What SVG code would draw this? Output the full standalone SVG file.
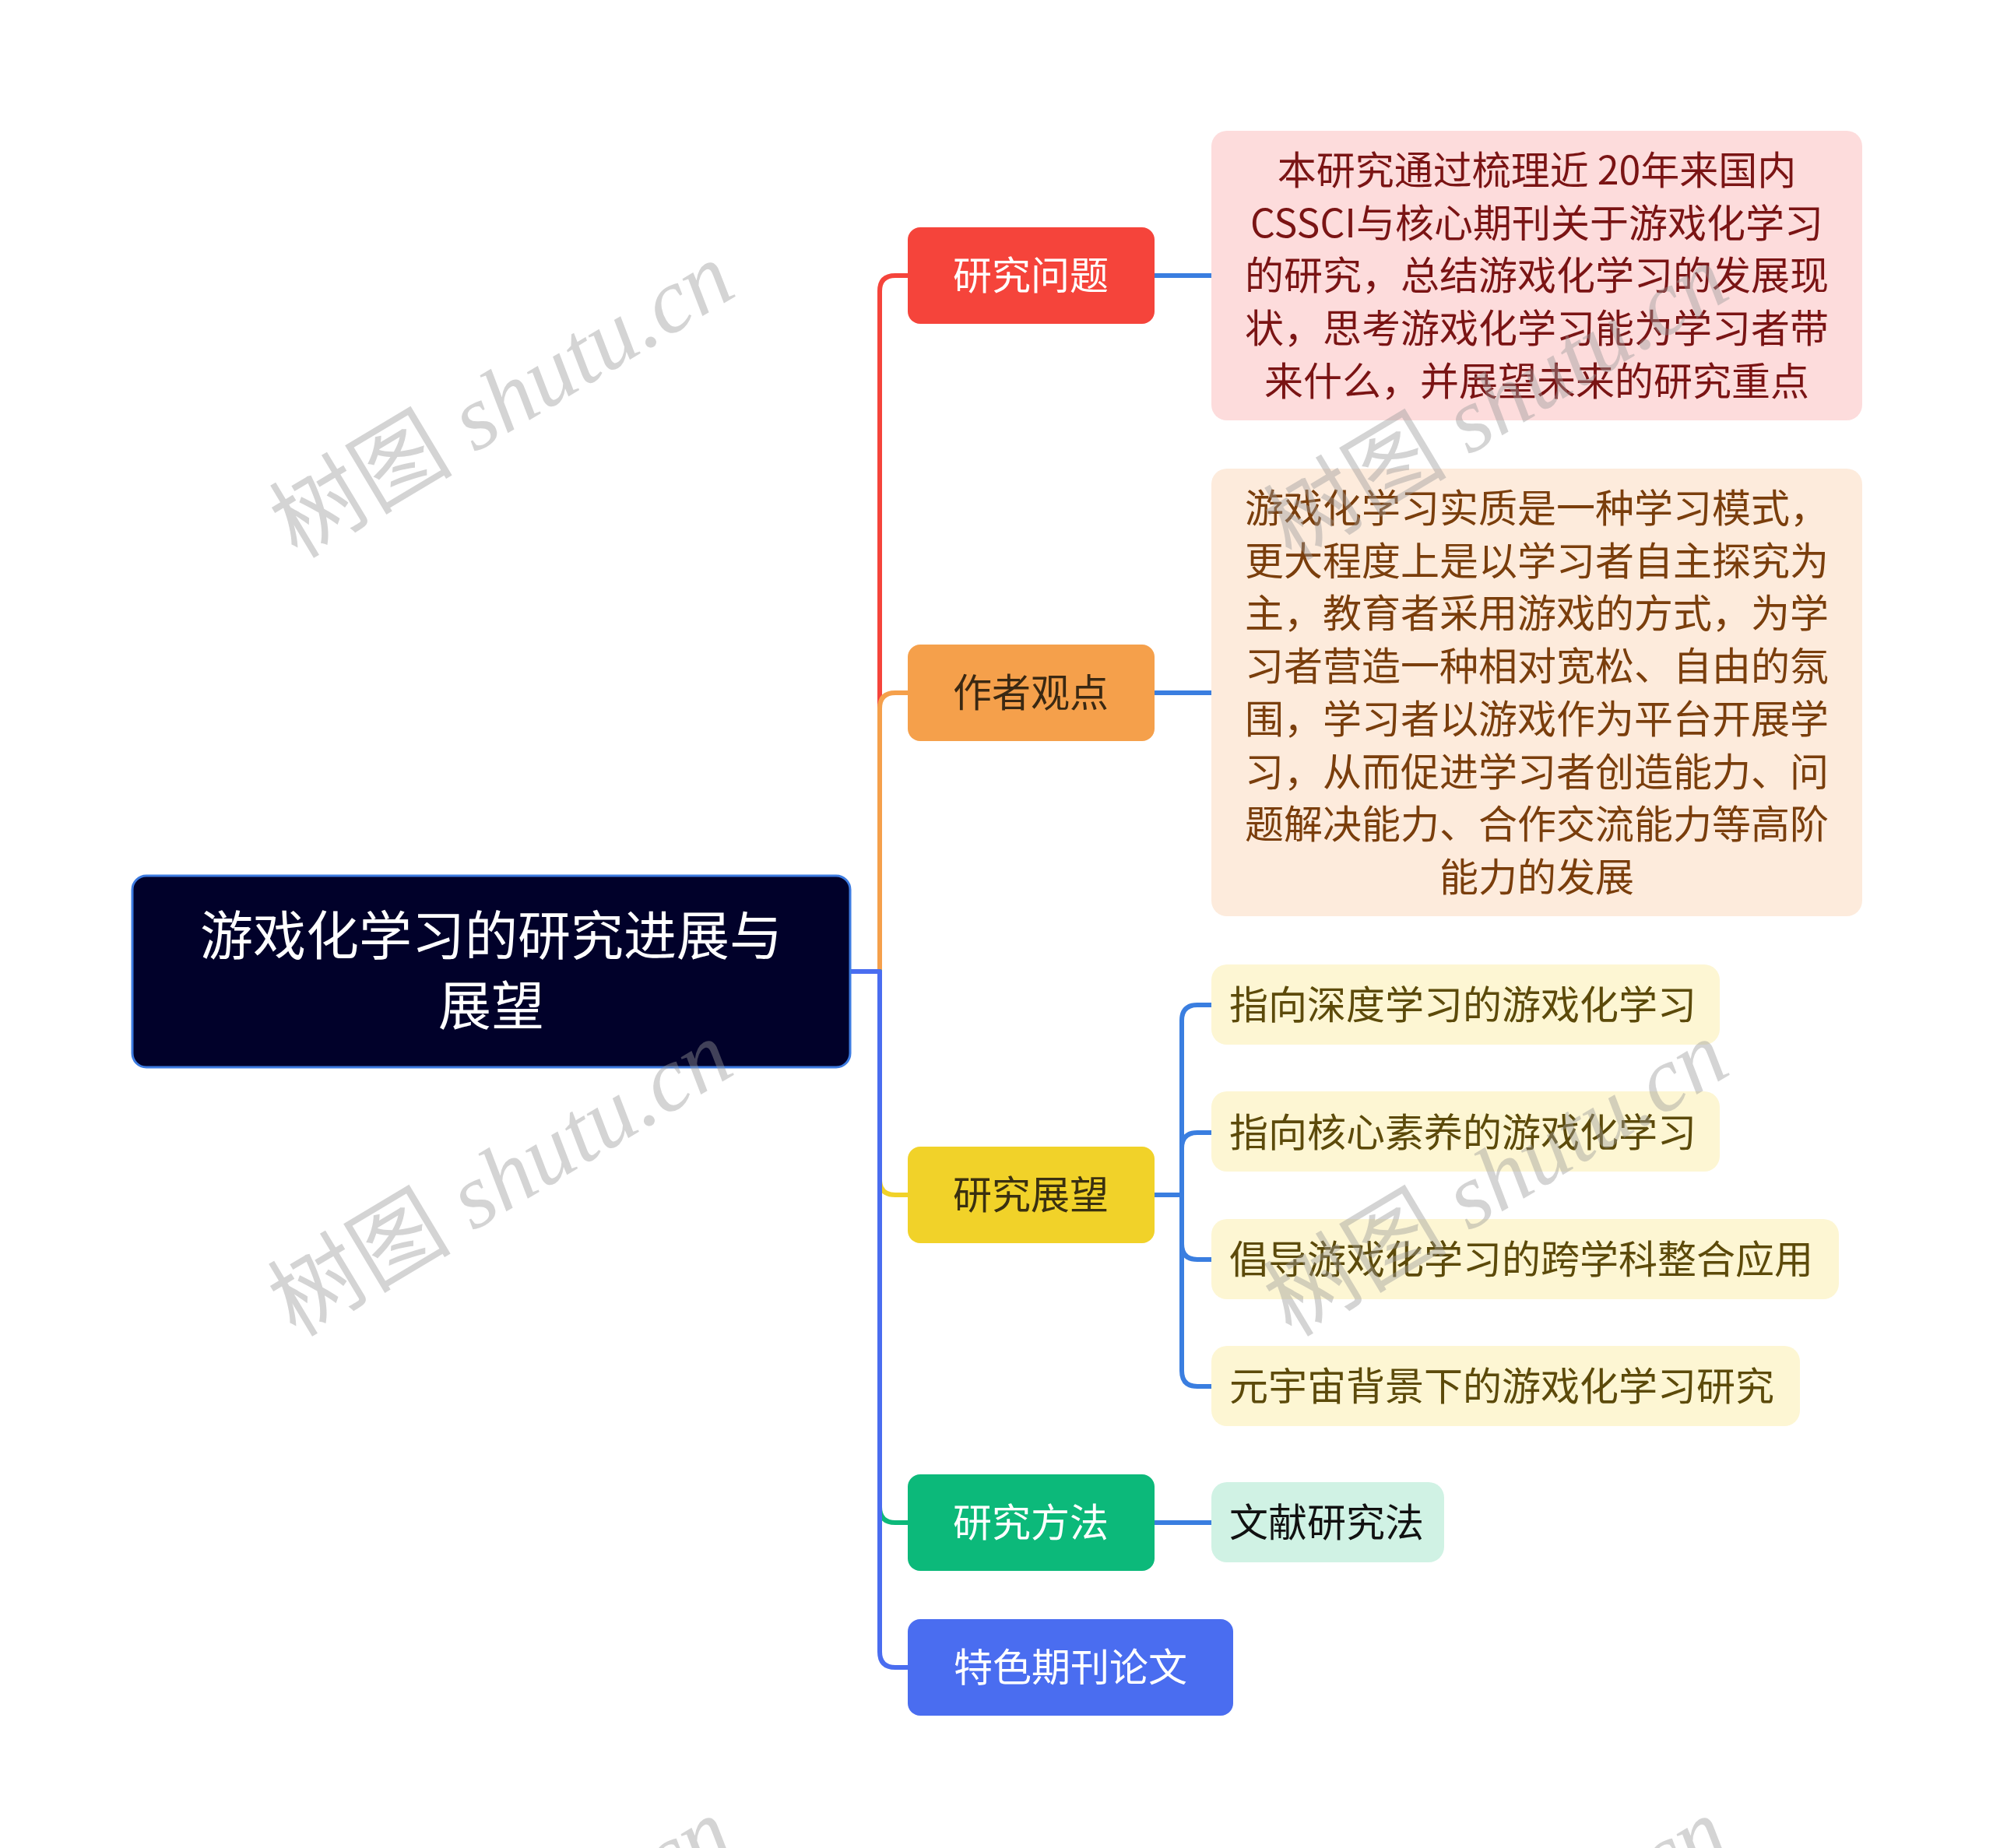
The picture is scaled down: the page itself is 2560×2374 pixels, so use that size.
<svg xmlns="http://www.w3.org/2000/svg" width="2560" height="2374" viewBox="0 0 2560 2374">
<style>
.t{font-family:"Noto Sans CJK SC","Noto Sans",sans-serif;}
.root{font-size:68px;fill:#ffffff;text-anchor:middle;}
.br{font-size:50px;text-anchor:middle;}
.lf{font-size:50px;}
.lc{text-anchor:middle;}
.ln{fill:none;stroke-width:6;stroke-linecap:round;stroke-linejoin:round;}
.wm{font-family:"Liberation Serif","Noto Sans CJK SC",serif;font-size:118px;fill:#9a9a9a;opacity:0.42;text-anchor:middle;}
</style>
<rect width="2560" height="2374" fill="#ffffff"/>
<g id="connectors">
<path class="ln" stroke="#F5443B" d="M1092,1248 H1130 V374 Q1130,354 1150,354 H1166"/>
<path class="ln" stroke="#F5A04B" d="M1092,1248 H1130 V910 Q1130,890 1150,890 H1166"/>
<path class="ln" stroke="#F1D229" d="M1092,1248 H1130 V1515 Q1130,1535 1150,1535 H1166"/>
<path class="ln" stroke="#0CB97A" d="M1092,1248 H1130 V1936 Q1130,1956 1150,1956 H1166"/>
<path class="ln" stroke="#4A6DF0" d="M1092,1248 H1130 V2122 Q1130,2142 1150,2142 H1166"/>
<path class="ln" stroke="#3A7EE0" d="M1483,354 H1556"/>
<path class="ln" stroke="#3A7EE0" d="M1483,890 H1556"/>
<path class="ln" stroke="#3A7EE0" d="M1483,1956 H1556"/>
<path class="ln" stroke="#3A7EE0" d="M1483,1535 H1518 V1311 Q1518,1291 1538,1291 H1556"/>
<path class="ln" stroke="#3A7EE0" d="M1518,1535 V1475 Q1518,1455 1538,1455 H1556"/>
<path class="ln" stroke="#3A7EE0" d="M1518,1535 V1598 Q1518,1618 1538,1618 H1556"/>
<path class="ln" stroke="#3A7EE0" d="M1518,1535 V1761 Q1518,1781 1538,1781 H1556"/>
</g>
<g id="root">
<rect x="170" y="1125" width="922" height="246" rx="18" fill="#01012A" stroke="#3D7BE0" stroke-width="3"/>
<text class="t root" x="631" y="1227">游戏化学习的研究进展与</text>
<text class="t root" x="631" y="1317">展望</text>
</g>
<g id="n1">
<rect x="1166" y="292" width="317" height="124" rx="16" fill="#F5443B"/>
<text class="t br" x="1324" y="372" fill="#ffffff">研究问题</text>
</g>
<g id="n2">
<rect x="1166" y="828" width="317" height="124" rx="16" fill="#F5A04B"/>
<text class="t br" x="1324" y="908" fill="#3a2812">作者观点</text>
</g>
<g id="n3">
<rect x="1166" y="1473" width="317" height="124" rx="16" fill="#F1D229"/>
<text class="t br" x="1324" y="1553" fill="#3a3010">研究展望</text>
</g>
<g id="n4">
<rect x="1166" y="1894" width="317" height="124" rx="16" fill="#0CB97A"/>
<text class="t br" x="1324" y="1974" fill="#ffffff">研究方法</text>
</g>
<g id="n5">
<rect x="1166" y="2080" width="418" height="124" rx="16" fill="#4A6DF0"/>
<text class="t br" x="1375" y="2160" fill="#ffffff">特色期刊论文</text>
</g>
<g id="leaf1">
<rect x="1556" y="168" width="836" height="372" rx="20" fill="#FDDCDC"/>
<g class="t lf lc" fill="#7a1414">
<text x="1974" y="237">本研究通过梳理近 20年来国内</text>
<text x="1974" y="305">CSSCI与核心期刊关于游戏化学习</text>
<text x="1974" y="372">的研究，总结游戏化学习的发展现</text>
<text x="1974" y="440">状，思考游戏化学习能为学习者带</text>
<text x="1974" y="508">来什么，并展望未来的研究重点</text>
</g>
</g>
<g id="leaf2">
<rect x="1556" y="602" width="836" height="575" rx="20" fill="#FDEBDC"/>
<g class="t lf lc" fill="#7a3e0c">
<text x="1974" y="671">游戏化学习实质是一种学习模式，</text>
<text x="1974" y="739">更大程度上是以学习者自主探究为</text>
<text x="1974" y="806">主，教育者采用游戏的方式，为学</text>
<text x="1974" y="874">习者营造一种相对宽松、自由的氛</text>
<text x="1974" y="942">围，学习者以游戏作为平台开展学</text>
<text x="1974" y="1010">习，从而促进学习者创造能力、问</text>
<text x="1974" y="1077">题解决能力、合作交流能力等高阶</text>
<text x="1974" y="1145">能力的发展</text>
</g>
</g>
<g id="leaf3">
<rect x="1556" y="1239" width="653" height="103" rx="20" fill="#FDF6D3"/>
<text class="t lf" x="1579" y="1309" fill="#5c4a0a">指向深度学习的游戏化学习</text>
</g>
<g id="leaf4">
<rect x="1556" y="1402" width="653" height="103" rx="20" fill="#FDF6D3"/>
<text class="t lf" x="1579" y="1473" fill="#5c4a0a">指向核心素养的游戏化学习</text>
</g>
<g id="leaf5">
<rect x="1556" y="1566" width="806" height="103" rx="20" fill="#FDF6D3"/>
<text class="t lf" x="1579" y="1636" fill="#5c4a0a">倡导游戏化学习的跨学科整合应用</text>
</g>
<g id="leaf6">
<rect x="1556" y="1729" width="756" height="103" rx="20" fill="#FDF6D3"/>
<text class="t lf" x="1579" y="1799" fill="#5c4a0a">元宇宙背景下的游戏化学习研究</text>
</g>
<g id="leaf7">
<rect x="1556" y="1904" width="299" height="103" rx="20" fill="#D0F2E4"/>
<text class="t lf" x="1579" y="1974" fill="#111111">文献研究法</text>
</g>
<g id="watermarks">
<text class="wm" transform="translate(645,514) rotate(-31)" y="40">树图 <tspan font-style="italic">shutu.cn</tspan></text>
<text class="wm" transform="translate(643,1514) rotate(-31)" y="40">树图 <tspan font-style="italic">shutu.cn</tspan></text>
<text class="wm" transform="translate(1922,517) rotate(-31)" y="40">树图 <tspan font-style="italic">shutu.cn</tspan></text>
<text class="wm" transform="translate(1922,1514) rotate(-31)" y="40">树图 <tspan font-style="italic">shutu.cn</tspan></text>
<text class="wm" transform="translate(643,2512) rotate(-31)" y="40">树图 <tspan font-style="italic">shutu.cn</tspan></text>
<text class="wm" transform="translate(1922,2512) rotate(-31)" y="40">树图 <tspan font-style="italic">shutu.cn</tspan></text>
</g>
</svg>
